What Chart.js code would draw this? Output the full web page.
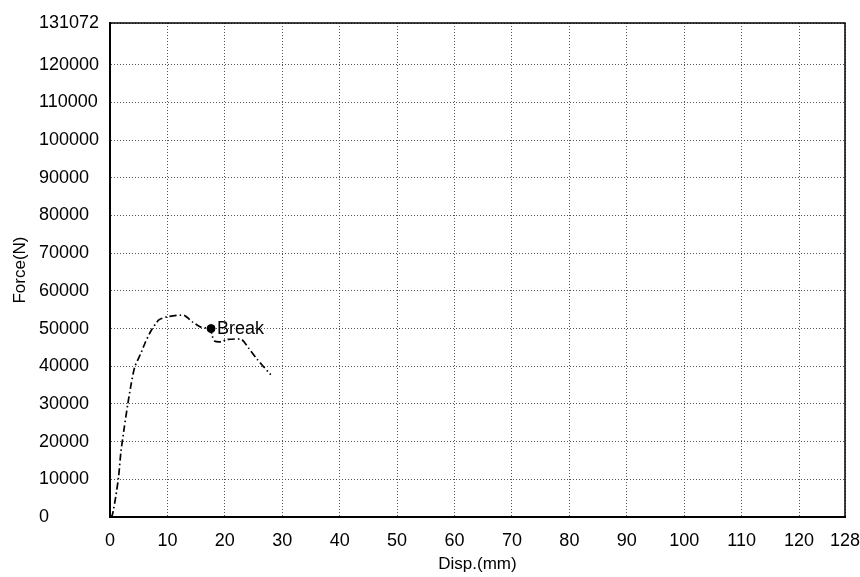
<!DOCTYPE html>
<html>
<head>
<meta charset="utf-8">
<script src="https://cdn.jsdelivr.net/npm/chart.js@4/dist/chart.umd.min.js"></script>
<style>
  html, body { margin: 0; padding: 0; background: #fff; }
  #wrap { width: 860px; height: 577px; }
</style>
</head>
<body>
<div id="wrap"><canvas id="forceChart"></canvas></div>
<script>
// Disp.(mm) vs Force(N)
const disp = [0, 0.4, 1.0, 1.5, 1.9, 2.5, 3.1, 3.7, 4.3, 5.3, 6.2, 7.1, 8.5, 10.2, 12.9, 14.4, 15.9, 17.6, 17.7, 18.2, 19.4, 20.3, 22.9, 24.1, 25.6, 27.6, 28.0];
const force = [0, 500, 5400, 10700, 17300, 23900, 30000, 35400, 39800, 43200, 46500, 49300, 52300, 53200, 53500, 51700, 50300, 50000, 48500, 46700, 46500, 47100, 47100, 44900, 41900, 38400, 37800];

// break point
const breakDisp = 17.6;
const breakForce = 50000;
const breakLabel = 'Break';

// tick labels
const xTicks = [0, 10, 20, 30, 40, 50, 60, 70, 80, 90, 100, 110, 120, 128];
const yTicks = [0, 10000, 20000, 30000, 40000, 50000, 60000, 70000, 80000, 90000, 100000, 110000, 120000, 131072];

const FONT = '"Liberation Sans", Arial, sans-serif';

// frame around the plot area
const framePlugin = {
    id: 'frame',
    afterDraw(chart) {
        const { ctx, chartArea: a } = chart;
        ctx.save();
        ctx.strokeStyle = '#000';
        ctx.lineWidth = 1.5;
        ctx.strokeRect(a.left, a.top, a.right - a.left, a.bottom - a.top);
        ctx.restore();
    }
};

// "Break" text next to the marker
const breakLabelPlugin = {
    id: 'breakLabel',
    afterDatasetsDraw(chart) {
        const pt = chart.getDatasetMeta(1).data[0];
        if (!pt) return;
        const ctx = chart.ctx;
        ctx.save();
        ctx.font = '18px ' + FONT;
        ctx.fillStyle = '#000';
        ctx.textBaseline = 'middle';
        ctx.fillText(breakLabel, pt.x + 6, pt.y);
        ctx.restore();
    }
};

const ctx = document.getElementById('forceChart').getContext('2d');

new Chart(ctx, {
    type: 'scatter',
    data: {
        datasets: [
            {
                label: 'Force',
                data: disp.map((d, i) => ({ x: d, y: force[i] })),
                showLine: true,
                borderColor: '#000',
                borderWidth: 1.7,
                borderDash: [7, 3, 1.5, 3],
                pointRadius: 0,
                fill: false,
                tension: 0.2
            },
            {
                label: 'Break',
                data: [{ x: breakDisp, y: breakForce }],
                pointRadius: 4,
                pointBackgroundColor: '#000',
                pointBorderColor: '#000'
            }
        ]
    },
    options: {
        responsive: true,
        maintainAspectRatio: false,
        animation: false,
        layout: { padding: { left: 39, right: 0, top: 23, bottom: 0 } },
        plugins: {
            legend: { display: false },
            tooltip: { enabled: false }
        },
        scales: {
            x: {
                type: 'linear',
                min: 0,
                max: 128,
                afterBuildTicks: s => { s.ticks = xTicks.map(v => ({ value: v })); },
                afterFit: s => { s.height = 60; s.paddingRight = 15; },
                grid: { color: '#555', lineWidth: 1, drawTicks: false },
                border: { display: true, color: '#000', width: 2, dash: [1, 2] },
                ticks: { color: '#000', padding: 13, autoSkip: false, maxRotation: 0, font: { family: FONT, size: 18 },
                         callback: v => String(v) },
                title: { display: true, text: 'Disp.(mm)', color: '#000', padding: { top: 0, bottom: 2 }, font: { family: FONT, size: 17 } }
            },
            y: {
                type: 'linear',
                min: 0,
                max: 131072,
                afterBuildTicks: s => { s.ticks = yTicks.map(v => ({ value: v })); },
                afterFit: s => { s.width = 71; },
                grid: { color: '#555', lineWidth: 1, drawTicks: false },
                border: { display: true, color: '#000', width: 2, dash: [1, 2] },
                ticks: { color: '#000', padding: 11, crossAlign: 'far', autoSkip: false, font: { family: FONT, size: 18 },
                         callback: v => String(v) },
                title: { display: true, text: 'Force(N)', color: '#000', padding: { top: -29, bottom: 0 }, font: { family: FONT, size: 17 } }
            }
        }
    },
    plugins: [framePlugin, breakLabelPlugin]
});
</script>
</body>
</html>
